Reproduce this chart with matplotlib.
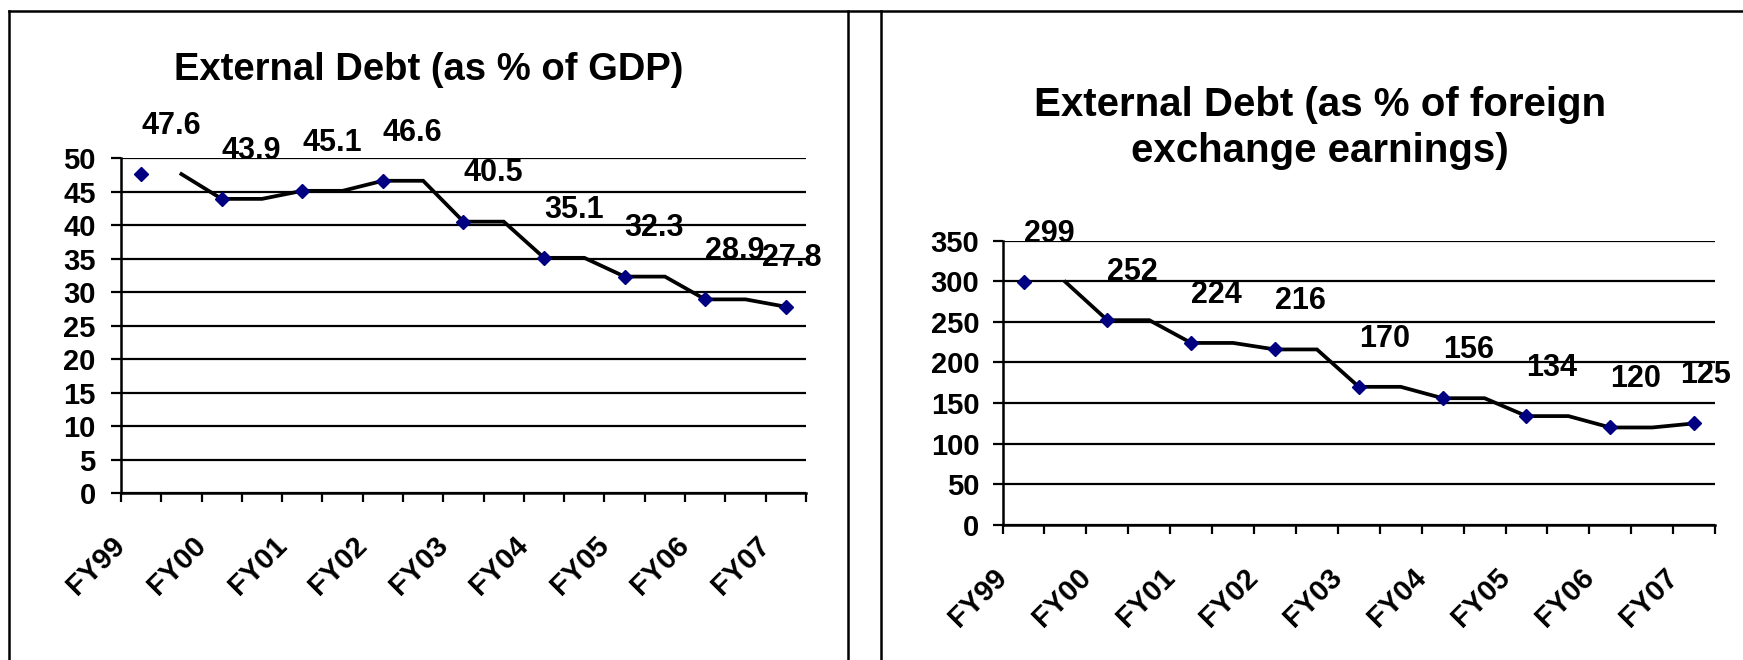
import matplotlib.pyplot as plt
from matplotlib.lines import Line2D
import numpy as np

plt.rcParams['font.family'] = ['Liberation Sans', 'DejaVu Sans']
plt.rcParams['font.weight'] = 'bold'

years = ["FY99", "FY00", "FY01", "FY02", "FY03", "FY04", "FY05", "FY06", "FY07"]
debt_gdp = [47.6, 43.9, 45.1, 46.6, 40.5, 35.1, 32.3, 28.9, 27.8]
debt_fx = [299, 252, 224, 216, 170, 156, 134, 120, 125]


def draw(ax, values, ymax, ystep, ypad, last_dx):
    n = len(values)
    # excel style: 17 slots, markers on even slots, line shifted by one slot
    mx = np.arange(n) * 2 + 0.5
    line_y = np.repeat(values, 2)[1:2 * n - 1]
    line_x = np.arange(1, 2 * n - 1) + 0.5

    ax.plot(line_x, line_y, color='black', lw=2.7, solid_joinstyle='miter', zorder=3)
    ax.plot(mx, values, linestyle='none', marker='D', ms=7.5, color='#000080', zorder=4)
    for i, (x, v) in enumerate(zip(mx, values)):
        dx = last_dx if i == n - 1 else 0
        ax.annotate(str(v), (x, v), xytext=(dx, 29), textcoords='offset points',
                    ha='left', va='baseline', fontsize=22, fontweight='bold',
                    annotation_clip=False, zorder=5)

    ax.set_xlim(0, 2 * n - 1)
    ax.set_ylim(0, ymax)
    ax.set_yticks(np.arange(0, ymax + 1, ystep))
    ax.tick_params(axis='y', length=7.2, width=1.6, pad=ypad, labelsize=21)
    ax.yaxis.grid(True, color='black', lw=1.6)
    ax.set_axisbelow(True)

    ticks = np.arange(0, 2 * n)
    labels = [""] * len(ticks)
    for i, y in enumerate(years):
        labels[2 * i] = y
    ax.set_xticks(ticks)
    ax.set_xticklabels(labels)
    ax.tick_params(axis='x', length=6.5, width=1.6, pad=28, labelsize=21)
    plt.setp(ax.get_xticklabels(), rotation=45, ha='right', va='center',
             rotation_mode='anchor')

    for s in ['top', 'right']:
        ax.spines[s].set_visible(False)
    for s in ['left', 'bottom']:
        ax.spines[s].set_linewidth(1.8)


fig = plt.figure(figsize=(17.43, 6.6), dpi=100)

ax1 = fig.add_axes([0.0694, 0.2530, 0.3930, 0.5076])
draw(ax1, debt_gdp, 50, 5, 11, -17)

ax2 = fig.add_axes([0.5752, 0.2045, 0.4088, 0.4311])
draw(ax2, debt_fx, 350, 50, 9.5, -10)

fig.text(0.2461, 1 - 80 / 660, "External Debt (as % of GDP)", ha='center',
         va='baseline', fontsize=27.5, fontweight='bold')
fig.text(0.7573, 1 - 116 / 660, "External Debt (as % of foreign", ha='center',
         va='baseline', fontsize=29, fontweight='bold')
fig.text(0.7573, 1 - 162 / 660, "exchange earnings)", ha='center',
         va='baseline', fontsize=29, fontweight='bold')

# panel borders
top = 1 - 11 / 660
fig.add_artist(Line2D([9 / 1743, 1], [top, top], color='black', lw=1.8))
for px in [9, 848, 881]:
    fig.add_artist(Line2D([px / 1743, px / 1743], [0, top], color='black', lw=1.8))

fig.savefig('out.png', dpi=100)
